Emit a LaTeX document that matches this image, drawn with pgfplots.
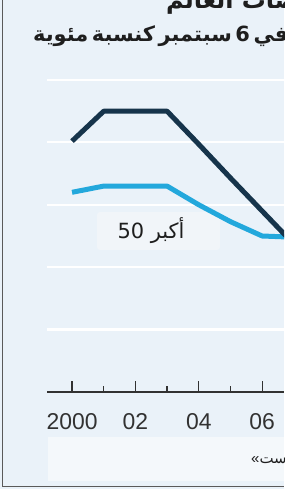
\documentclass[border=0pt]{standalone}
\usepackage{fontspec}
\setmainfont{Liberation Sans}
\newfontfamily\arabicfont[Script=Arabic]{DejaVu Sans}
\TeXXeTstate=1
\usepackage{pgfplots}
\pgfplotsset{compat=1.18}
\definecolor{bg}{RGB}{234,242,249}
\definecolor{panel}{RGB}{244,248,251}
\definecolor{boxc}{RGB}{241,245,249}
\definecolor{darkline}{RGB}{22,52,75}
\definecolor{lightline}{RGB}{35,168,220}
\definecolor{axisc}{RGB}{50,50,50}
\definecolor{borderc}{RGB}{90,90,90}
\definecolor{txt}{RGB}{30,30,30}
\begin{document}
\begin{tikzpicture}[x=1bp,y=1bp]
\useasboundingbox (0,0) rectangle (284,489);
\begin{scope}
\clip (0,0) rectangle (284,489);
\fill[bg] (0,0) rectangle (284,489);
\fill[panel] (48,8) rectangle (284,52);
\fill[boxc, rounded corners=3bp] (97,239) rectangle (220,277);
\begin{axis}[
  at={(47bp,97bp)}, anchor=south west,
  scale only axis, width=237bp, height=312bp,
  xmin=1999.21, xmax=2006.69, ymin=0, ymax=50,
  axis x line*=bottom, axis y line*=left,
  y axis line style={draw=none},
  x axis line style={axisc, line width=1.6bp},
  ytick={10,20,30,40,50}, yticklabels={}, ytick style={draw=none},
  ymajorgrids, grid style={white, line width=2.2bp},
  xtick={2000,2002,2004,2006}, xticklabels={2000,02,04,06},
  minor xtick={2001,2003,2005},
  tick align=inside, major tick length=11bp, minor tick length=6bp,
  xtick style={axisc, line width=1.3bp},
  every minor tick/.append style={axisc, line width=1.3bp},
  xticklabel style={font=\fontsize{23}{24}\selectfont, text=axisc, anchor=north, inner sep=0pt, yshift=-21bp},
]
\addplot[lightline, line width=5bp, line join=round] coordinates {
 (2000,32.0) (2001,33.0) (2002,33.0) (2003,33.0) (2004,30.0) (2005,27.3) (2006,25.0) (2007,24.8)};
\addplot[darkline, line width=5bp, line join=round] coordinates {
 (2000,40.2) (2001,45.0) (2002,45.0) (2003,45.0) (2004,39.7) (2005,34.3) (2006,29.0) (2007,23.7)};
\end{axis}
\node[anchor=base west, inner sep=0pt, text=txt, font=\arabicfont\bfseries\fontsize{24}{28}\selectfont] at (166,480) {\beginR بورصات العالم\endR};
\node[anchor=base west, inner sep=0pt, text=txt, font=\arabicfont\bfseries\fontsize{21}{24}\selectfont] at (33,447) {\spaceskip=0.17em\beginR العالمية في 6 سبتمبر كنسبة مئوية\endR};
\node[anchor=center, inner sep=0pt, text=txt, font=\arabicfont\fontsize{21}{24}\selectfont] at (151,258) {\beginR أكبر 50\endR};
\node[anchor=base west, inner sep=0pt, text=txt, font=\fontsize{15}{18}\selectfont] at (251,25) {«\arabicfont\beginR داتاست\endR};
\draw[borderc, line width=1.5bp] (2.5,489) -- (2.5,2.5) -- (284,2.5);
\end{scope}
\end{tikzpicture}
\end{document}
